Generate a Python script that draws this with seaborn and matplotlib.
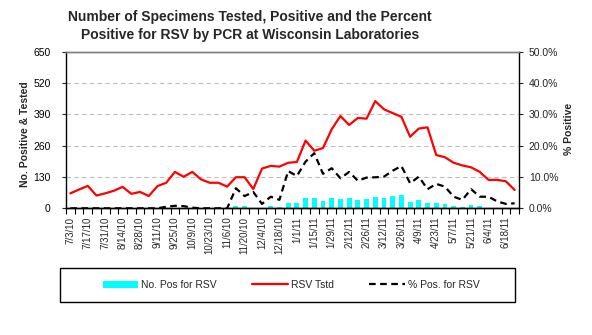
import numpy as np
import pandas as pd
import matplotlib
matplotlib.use("Agg")
import matplotlib.pyplot as plt
import seaborn as sns
from matplotlib.patches import Rectangle, Patch
from matplotlib.lines import Line2D
from matplotlib.ticker import FuncFormatter, MultipleLocator

# ---- data ----
tick_labels = ["7/3/10", "7/17/10", "7/31/10", "8/14/10", "8/28/10", "9/11/10", "9/25/10",
               "10/9/10", "10/23/10", "11/6/10", "11/20/10", "12/4/10", "12/18/10", "1/1/11",
               "1/15/11", "1/29/11", "2/12/11", "2/26/11", "3/12/11", "3/26/11", "4/9/11",
               "4/23/11", "5/7/11", "5/21/11", "6/4/11", "6/18/11"]

rsv_tested = [62, 78, 93, 53, 62, 73, 89, 60, 68, 51, 92, 106, 151, 131, 151, 120, 106, 106,
              90, 129, 129, 80, 165, 176, 173, 189, 192, 281, 239, 250, 328, 383, 346, 375,
              372, 445, 411, 395, 380, 297, 331, 336, 221, 212, 189, 178, 170, 151, 118, 118,
              112, 76]

rsv_positive = [0, 0, 0, 0, 0, 0, 0, 0, 0, 0, 0, 1, 1, 1, 0, 0, 0, 0,
                0, 10, 10, 3, 2, 8, 4, 24, 21, 43, 43, 30, 43, 39, 43, 35,
                39, 47, 43, 51, 54, 25, 33, 20, 20, 17, 8, 4, 12, 8, 3, 2,
                1, 1]

pct_positive = [0, 0, 0, 0, 0, 0, 0, 0, 0, 0, 0, 0.5, 0.8, 0.7, 0.2, 0, 0, 0,
                0, 6.4, 3.9, 5.2, 1.4, 3.7, 2.7, 11.9, 10.3, 14.9, 17.6, 11.0, 12.8, 9.6, 11.6, 8.8,
                9.8, 9.9, 10.1, 12.0, 13.5, 8.0, 10.1, 6.1, 7.8, 6.9, 3.7, 2.7, 6.1, 3.7, 3.7, 2.2,
                1.4, 1.6]

week = list(range(len(rsv_tested)))
df = pd.DataFrame({"week": week, "tested": rsv_tested, "positive": rsv_positive,
                   "pct": pct_positive})

# ---- style ----
sns.set_style("ticks")
plt.rcParams["font.family"] = ["Liberation Sans", "DejaVu Sans"]

W, H = 592, 335
fig = plt.figure(figsize=(W / 100, H / 100), dpi=100)
L, R, T, B = 66, 519, 51.7, 208.3
ax = fig.add_axes([L / W, 1 - B / H, (R - L) / W, (B - T) / H])

sns.barplot(data=df, x="week", y="positive", ax=ax, color="#00FFFF", saturation=1,
            width=0.55, linewidth=0, zorder=2)
sns.lineplot(data=df, x="week", y="tested", ax=ax, color="#FF0000", linewidth=1.6,
             zorder=3)

ax2 = ax.twinx()
sns.lineplot(data=df, x="week", y="pct", ax=ax2, color="black", linewidth=1.6, zorder=3)
ax2.lines[0].set_dashes([3, 2])

ax.set_xlim(-0.5, len(week) - 0.5)
ax.set_ylim(0, 650)
ax2.set_ylim(0, 50)
ax.yaxis.set_major_locator(MultipleLocator(130))
ax2.yaxis.set_major_locator(MultipleLocator(10))
ax2.yaxis.set_major_formatter(FuncFormatter(lambda v, p: f"{v:.1f}%"))

ax.yaxis.grid(True, color="#BDBDBD", linestyle=(0, (4, 3)), linewidth=0.8)
ax.set_axisbelow(True)

ax.set_xticks(range(0, len(week), 2))
ax.set_xticklabels(tick_labels, rotation=90, fontsize=7)
ax.set_xticks(np.arange(-0.5, len(week), 1), minor=True)
ax.tick_params(axis="x", which="major", length=0, pad=6)
ax.tick_params(axis="x", which="minor", length=4, width=0.8, direction="out", color="black")
ax.tick_params(axis="y", length=3, width=0.8, direction="out", pad=8, labelsize=7.5,
               labelcolor="#000000")
ax2.tick_params(axis="y", length=3, width=0.8, direction="out", pad=4, labelsize=7.5)

ax.set_xlabel("")
ax.set_ylabel("")
ax2.set_ylabel("")

for a in (ax, ax2):
    for s in ("left", "right", "bottom"):
        a.spines[s].set_color("black")
        a.spines[s].set_linewidth(1.0)
    a.spines["top"].set_color("#808080")
    a.spines["top"].set_linewidth(1.0)
ax.spines["right"].set_visible(False)
ax2.spines["left"].set_visible(False)

fig.text(25 / W, 1 - 134 / H, "No. Positive & Tested", rotation=90, ha="center",
         va="center", fontsize=7.5, fontweight="bold")
fig.text(569 / W, 1 - 129 / H, "% Positive", rotation=90, ha="center", va="center",
         fontsize=7.5, fontweight="bold")

fig.text(250 / W, 1 - 26 / H,
         "Number of Specimens Tested, Positive and the Percent\n"
         "Positive for RSV by PCR at Wisconsin Laboratories",
         ha="center", va="center", fontsize=10, fontweight="bold", linespacing=1.3)

# legend
fig.add_artist(Rectangle((60 / W, 1 - 302 / H), 455 / W, 34 / H, transform=fig.transFigure,
                         fill=False, edgecolor="black", linewidth=1.0))
handles = [Patch(facecolor="#00FFFF", edgecolor="none"),
           Line2D([], [], color="#FF0000", linewidth=1.6),
           Line2D([], [], color="black", linewidth=1.6, dashes=[3, 2])]
fig.legend(handles, ["No. Pos for RSV", "RSV Tstd", "% Pos. for RSV"], loc="center",
           bbox_to_anchor=(291 / W, 1 - 285 / H), ncol=3, frameon=False, fontsize=7.5,
           handlelength=3.4, handletextpad=0.3, columnspacing=3.4)

fig.savefig("out.png", dpi=100)
